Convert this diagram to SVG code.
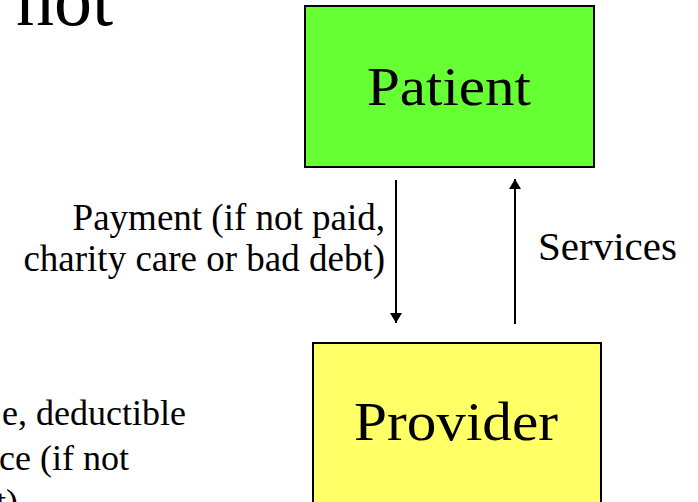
<svg xmlns="http://www.w3.org/2000/svg" width="698" height="502" viewBox="0 0 698 502">
<style>
.t{font-family:"Liberation Serif","Times New Roman",serif;fill:#000}
.box{stroke:#000;stroke-width:2}
.conn{stroke:#000;stroke-width:2;fill:none}
</style>
<defs>
<marker id="ah" viewBox="0 0 10 12" refX="10" refY="6" markerWidth="10" markerHeight="12" markerUnits="userSpaceOnUse" orient="auto">
<path d="M0,0 L10,6 L0,12 Z" fill="#000"/>
</marker>
</defs>
<rect width="698" height="502" fill="#fff"/>
<text class="t" x="16" y="25" font-size="76">not</text>
<g id="patient">
<rect class="box" x="305" y="6" width="289" height="161" fill="#66FF33"/>
<text class="t" x="367" y="105" font-size="54" textLength="164" lengthAdjust="spacingAndGlyphs">Patient</text>
</g>
<g id="provider">
<rect class="box" x="313" y="343" width="288" height="172" fill="#FFFF66"/>
<text class="t" x="354" y="440" font-size="54" textLength="204" lengthAdjust="spacingAndGlyphs">Provider</text>
</g>
<g id="connectors">
<line class="conn" x1="396" y1="180" x2="396" y2="323" marker-end="url(#ah)"/>
<line class="conn" x1="515" y1="324" x2="515" y2="179" marker-end="url(#ah)"/>
</g>
<g id="labels">
<text class="t" font-size="37" text-anchor="end"><tspan x="385" y="230">Payment (if not paid,</tspan><tspan x="385" y="271">charity care or bad debt)</tspan></text>
<text class="t" x="538" y="260" font-size="41">Services</text>
<text class="t" font-size="36" text-anchor="end"><tspan x="186" y="425">e, deductible</tspan><tspan x="129" y="470">ce (if not</tspan><tspan x="18" y="514">t)</tspan></text>
</g>
</svg>
